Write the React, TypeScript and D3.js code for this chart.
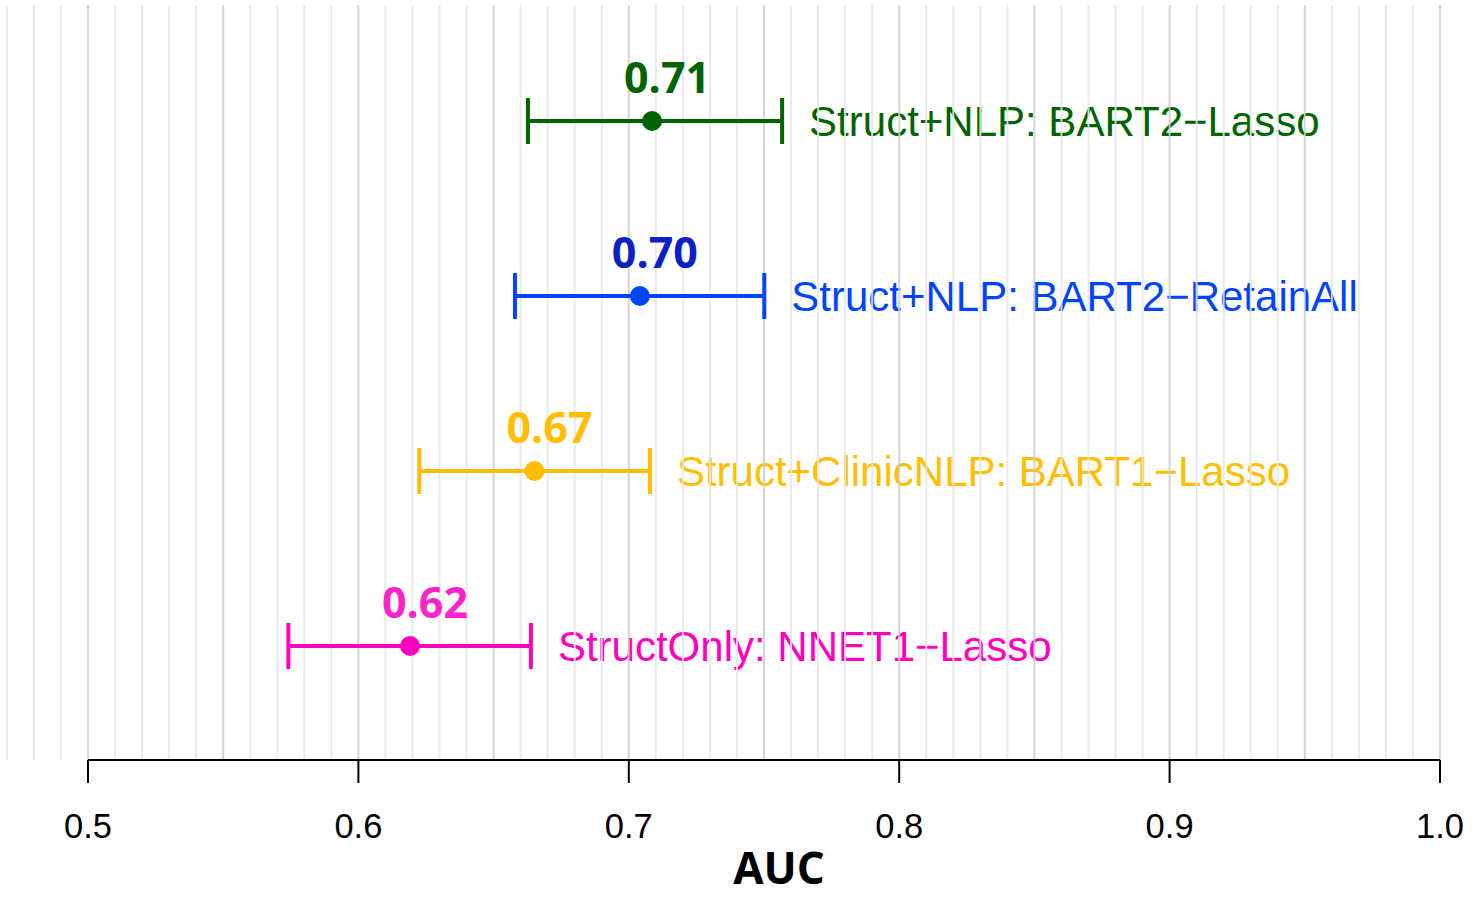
import React from 'react';
import * as d3 from 'd3';

// models, top to bottom
const models = [
  'Struct+NLP: BART2\u2212Lasso',
  'Struct+NLP: BART2\u2212RetainAll',
  'Struct+ClinicNLP: BART1\u2212Lasso',
  'StructOnly: NNET1\u2212Lasso',
];
const auc = [0.7086, 0.7041, 0.6651, 0.6191];
const ciLow = [0.6627, 0.6579, 0.6225, 0.5741];
const ciHigh = [0.7567, 0.7501, 0.7078, 0.6638];
const barColors = ['#006400', '#0044ff', '#ffbf00', '#ff00bf'];
const valueColors = ['#006400', '#0a22c4', '#ffbf00', '#ff22c8'];
const xTicks = [0.5, 0.6, 0.7, 0.8, 0.9, 1.0];

const W = 1476;
const H = 899;

export default function App() {
  const x = d3.scaleLinear().domain([0.5, 1.0]).range([88, 1440]);
  const y = d3.scalePoint<number>().domain(d3.range(models.length)).range([121, 646]);
  const axisY = 760;

  // gridlines every 0.01 from 0.47, darker every 0.05
  const grid = d3.range(47, 101).map(i => i / 100);

  return (
    <svg width={W} height={H} style={{ position: 'absolute', left: 0, top: 0, background: '#fff' }}>
      {/* model labels (gridlines are drawn over them, as in the original) */}
      {models.map((m, i) => (
        <text
          key={'lab' + i}
          x={x(ciHigh[i]) + 27}
          y={y(i)! + 15}
          fill={barColors[i]}
          fontFamily="Liberation Sans, Arial, sans-serif"
          fontSize={42}
        >
          {m}
        </text>
      ))}

      {grid.map((g, i) => {
        const major = Math.round(g * 100) % 5 === 0;
        return (
          <line
            key={'g' + i}
            x1={x(g)}
            x2={x(g)}
            y1={5}
            y2={axisY}
            stroke={major ? '#cccccc' : '#e6e6e6'}
            strokeOpacity={0.85}
            strokeWidth={2}
          />
        );
      })}

      {/* axis */}
      <line x1={x(0.5)} x2={x(1.0)} y1={axisY} y2={axisY} stroke="#000" strokeWidth={2} />
      {xTicks.map(t => (
        <g key={'t' + t}>
          <line x1={x(t)} x2={x(t)} y1={axisY} y2={axisY + 23} stroke="#000" strokeWidth={2} />
          <text
            x={x(t)}
            y={838}
            textAnchor="middle"
            fontFamily="Liberation Sans, Arial, sans-serif"
            fontSize={34.5}
            fill="#000"
          >
            {t.toFixed(1)}
          </text>
        </g>
      ))}
      <text
        x={779}
        y={884}
        textAnchor="middle"
        fontFamily="Open Sans, sans-serif"
        fontWeight="bold"
        fontSize={44}
        fill="#000"
      >
        AUC
      </text>

      {/* error bars and points */}
      {models.map((m, i) => {
        const cy = y(i)!;
        return (
          <g key={'bar' + i} stroke={barColors[i]} strokeWidth={4}>
            <line x1={x(ciLow[i])} x2={x(ciHigh[i])} y1={cy} y2={cy} />
            <line x1={x(ciLow[i])} x2={x(ciLow[i])} y1={cy - 23} y2={cy + 23} />
            <line x1={x(ciHigh[i])} x2={x(ciHigh[i])} y1={cy - 23} y2={cy + 23} />
            <circle cx={x(auc[i])} cy={cy} r={10} fill={barColors[i]} stroke="none" />
            <text
              x={x(auc[i]) + 15}
              y={cy - 28}
              textAnchor="middle"
              fontFamily="Open Sans, sans-serif"
              fontWeight="bold"
              fontSize={43}
              fill={valueColors[i]}
              stroke="none"
            >
              {auc[i].toFixed(2)}
            </text>
          </g>
        );
      })}
    </svg>
  );
}
